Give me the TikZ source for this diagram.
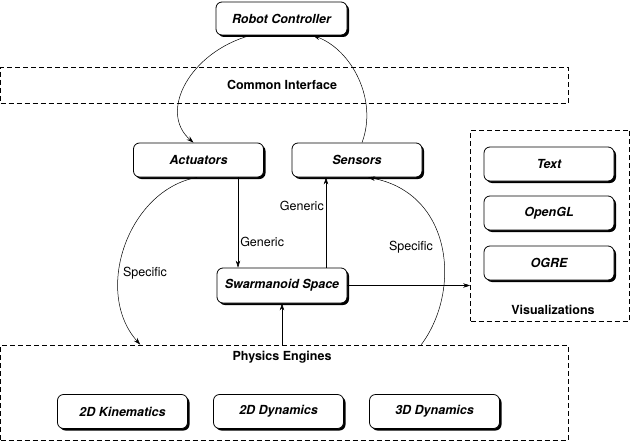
\documentclass[tikz,border=0pt]{standalone}
\usepackage{fontspec}
\setmainfont{TeX Gyre Heros}
\usetikzlibrary{arrows.meta,shadows,calc}
\begin{document}
\begin{tikzpicture}[x=1pt,y=-1pt,
  modbox/.style={draw=black, line width=0.8pt, fill=white, rounded corners=6pt,
    minimum width=130pt, minimum height=34pt, inner sep=0pt,
    drop shadow={shadow xshift=2pt, shadow yshift=-2pt, fill=black, opacity=1},
    font=\fontsize{12.5}{14}\selectfont\bfseries\itshape},
  groupbox/.style={draw=black, line width=0.7pt, dash pattern=on 5pt off 3pt, inner sep=0pt},
  grouplabel/.style={font=\fontsize{12.5}{14}\selectfont\bfseries, inner sep=0pt},
  edgelabel/.style={font=\fontsize{12.5}{14}\selectfont, inner sep=0pt},
  arr/.style={line width=0.5pt, -{Stealth[length=7pt,width=4.5pt]}}]
\useasboundingbox (0,0) rectangle (631,444);

% group boxes
\node[groupbox, minimum width=567.5pt, minimum height=36pt] (ci) at (284.25,85) {};
\node[grouplabel] (cil) at (282,85) {Common Interface};
\node[groupbox, minimum width=159pt, minimum height=191pt] (vis) at (550,225.5) {};
\node[grouplabel] (visl) at (553,310) {Visualizations};
\node[groupbox, minimum width=567.5pt, minimum height=95pt] (pe) at (284.25,392.5) {};
\node[grouplabel] (pel) at (282,357) {Physics Engines};

% modules
\node[modbox, minimum width=131pt, minimum height=33pt] (rc) at (281.5,18.5) {Robot Controller};
\node[modbox] (act) at (198.5,160) {Actuators};
\node[modbox] (sen) at (357,160) {Sensors};
\node[modbox, minimum height=35pt] (sw) at (282,285.5) {Swarmanoid Space};
\node[modbox] (txt) at (549,164) {Text};
\node[modbox] (gl) at (549,213) {OpenGL};
\node[modbox] (ogre) at (549,263) {OGRE};
\node[modbox] (k2) at (122.5,411.5) {2D Kinematics};
\node[modbox] (d2) at (278.5,411.5) {2D Dynamics};
\node[modbox] (d3) at (434.5,411.5) {3D Dynamics};

% connectors
\draw[arr] ([xshift=-31pt]rc.south) .. controls (190,52) and (158,112) .. ([xshift=-5pt]act.north);
\draw[arr] ([xshift=5pt]sen.north) .. controls (378,100) and (352,50) .. ([xshift=31.5pt]rc.south);
\draw[arr] ([xshift=39.5pt]act.south) -- ([xshift=39.5pt]act.south |- sw.north)
  node[edgelabel, pos=0.72, anchor=west, xshift=2pt] (g1) {Generic};
\draw[arr] ([xshift=44pt]sw.north) -- ([xshift=44pt]sw.north |- sen.south)
  node[edgelabel, pos=0.68, anchor=east, xshift=-2pt] (g2) {Generic};
\draw[arr] (sw.east) -- (vis.west |- sw.east);
\draw[arr] (pe.north -| sw.south) -- (sw.south);
\draw[arr] ([xshift=-1.5pt]act.south) .. controls (128,190) and (93,292) .. ([xshift=-144pt]pe.north);
\draw[arr] ([xshift=137pt]pe.north) .. controls (462,290) and (452,193) .. ([xshift=11pt]sen.south);
\node[edgelabel] (s1) at (145,273) {Specific};
\node[edgelabel] (s2) at (411,247) {Specific};
\end{tikzpicture}
\end{document}
